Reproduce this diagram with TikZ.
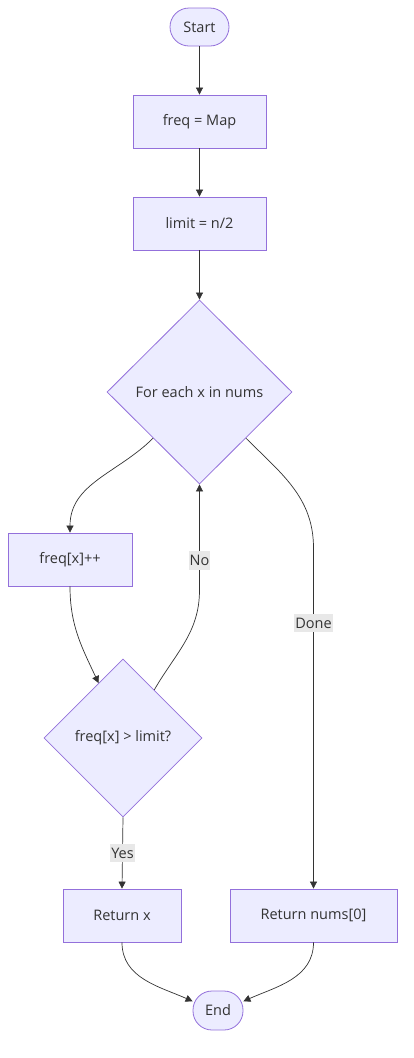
\documentclass[tikz,border=0pt]{standalone}
\usepackage{fontspec}
\setmainfont{Open Sans}
\usetikzlibrary{shapes.geometric,arrows.meta}
\definecolor{boxfill}{HTML}{ECECFF}
\definecolor{boxline}{HTML}{9370DB}
\definecolor{edgeline}{HTML}{333333}
\definecolor{labelbg}{HTML}{E8E8E8}
\tikzstyle{block}=[rectangle,draw=boxline,fill=boxfill,text=edgeline,minimum height=53pt,inner sep=0pt,line width=0.8pt,font=\fontsize{14.5}{17}\selectfont]
\tikzstyle{term}=[rectangle,rounded corners=19pt,draw=boxline,fill=boxfill,text=edgeline,minimum height=38pt,inner sep=0pt,line width=0.8pt,font=\fontsize{14.5}{17}\selectfont]
\tikzstyle{decision}=[diamond,draw=boxline,fill=boxfill,text=edgeline,inner sep=0pt,line width=0.8pt,font=\fontsize{14.5}{17}\selectfont]
\tikzstyle{flow}=[draw=edgeline,line width=0.7pt,-{Triangle[length=7pt,width=7pt]}]
\tikzstyle{tag}=[fill=labelbg,text=edgeline,inner xsep=1pt,inner ysep=4pt,font=\fontsize{14.5}{17}\selectfont]

\begin{document}
\begin{tikzpicture}[x=1pt,y=-1pt]
    \useasboundingbox (0,0) rectangle (413,1058);
    \node[term,minimum width=59pt] (start) at (199.5,27) {Start};
    \node[block,minimum width=133pt] (map) at (199.5,121.5) {freq = Map};
    \node[block,minimum width=133pt] (limit) at (199.5,223.5) {limit = n/2};
    \node[decision,minimum width=185pt,minimum height=184pt] (loop) at (199.5,392) {For each x in nums};
    \node[block,minimum width=124pt] (inc) at (70,559.5) {freq[x]++};
    \node[decision,minimum width=158pt,minimum height=158pt] (check) at (123,738) {freq[x] > limit?};
    \node[block,minimum width=118pt] (retx) at (122,915.5) {Return x};
    \node[block,minimum width=167pt] (retn) at (313.5,915.5) {Return nums[0]};
    \node[term,minimum width=50pt,minimum height=39pt] (end) at (218,1010.5) {End};
    \coordinate (noturn) at (199.5,590);
    \coordinate (doneturn) at (313.5,548);

    \draw[flow] (start) -- (map);
    \draw[flow] (map) -- (limit);
    \draw[flow] (limit) -- (loop);
    \draw[flow] (loop.south west) to[out=-135,in=90] (inc.north);
    \draw[flow] (inc.south) to[out=-90,in=115] (check.114);
    \draw[flow] (check.57) to[out=60,in=-90] (noturn) -- node[tag,pos=0.28] {No} (loop.south);
    \draw[flow] (loop.south east) to[out=-45,in=90] (doneturn) -- node[tag,pos=0.22] {Done} (retn.north);
    \draw[flow] (check.south) -- node[tag] {Yes} (retx.north);
    \draw[flow] (retx.south) to[out=-90,in=156] (end.160);
    \draw[flow] (retn.south) to[out=-90,in=24] (end.20);
\end{tikzpicture}
\end{document}
